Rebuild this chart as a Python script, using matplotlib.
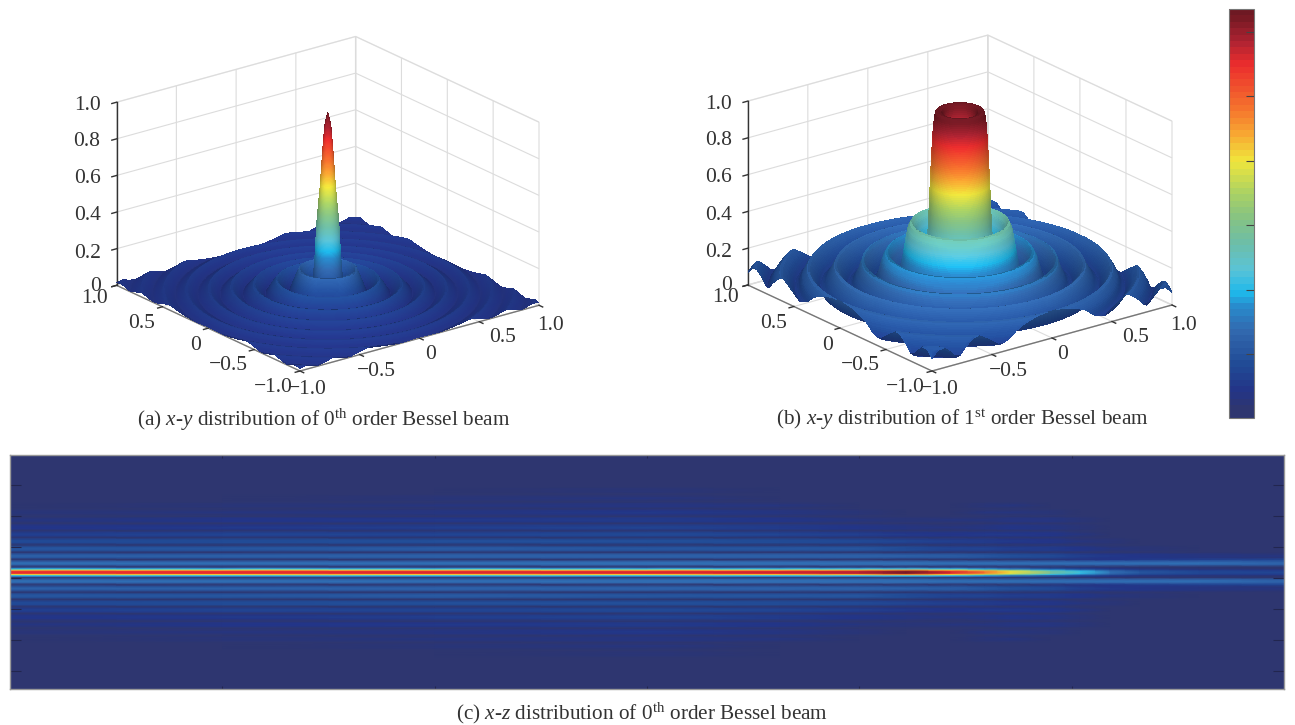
import numpy as np
import matplotlib
matplotlib.use("Agg")
import matplotlib.pyplot as plt
from matplotlib.colors import LinearSegmentedColormap, Normalize
from matplotlib.cm import ScalarMappable
from matplotlib.transforms import Affine2D
from mpl_toolkits.mplot3d import proj3d

plt.rcParams.update({
    "font.family": "Liberation Serif", "mathtext.fontset": "custom",
    "mathtext.rm": "Liberation Serif", "mathtext.it": "Liberation Serif:italic",
    "axes.unicode_minus": True, "text.color": "#333333",
    "xtick.color": "#333333", "ytick.color": "#333333",
})

# ---------- colour scale ----------
cmap_pos = [0, .016, .06, .126, .21, .27, .305, .36, .43, .49, .55, .63, .70, .76, .87, .925, .99, 1]
cmap_rgb = [(46,54,112),(46,54,112),(35,52,135),(33,75,150),(50,105,175),(40,140,205),(30,185,235),
            (90,195,215),(110,190,165),(135,195,130),(170,210,100),(240,230,60),(248,165,50),
            (245,115,45),(235,45,45),(175,35,50),(115,25,35),(110,25,35)]
cbar_ticks = [.156, .313, .472, .628, .787, .944]

# ---------- radial profiles (a) and (b) ----------
r_a = [0, .02, .035, .05, .073, .086, .10, .115, .15, .188, .225, .263, .30, .337, .375, .412, .45, .487,
       .525, .561, .60, .636, .675, .711, .75, .785, .82, .86, .90, .935, .97, 1.01, 1.05, 1.085, 1.12,
       1.16, 1.20, 1.235, 1.27, 1.309, 1.35, 1.385, 1.42]
z_a = [1, .93, .78, .60, .40, .20, .07, .01, .09, .15, .08, .005, .05, .09, .05, .004, .035, .065,
       .035, .003, .026, .05, .026, .003, .021, .04, .021, .003, .018, .034, .018, .002, .016, .03, .016,
       .002, .014, .026, .014, .002, .012, .023, .012]
r_b = [0, .03, .06, .09, .115, .14, .16, .17, .18, .19, .20, .207, .22, .24, .265, .295, .32, .345, .365, .38,
       .40, .42, .45, .48, .51, .545, .58, .61, .64, .67, .705, .74, .78, .82, .86, .89, .92, .96, 1.0,
       1.04, 1.06, 1.09, 1.135, 1.18, 1.225, 1.27, 1.315, 1.36, 1.405, 1.45]
z_b = [0, .12, .45, .85, .99, 1, 1, .96, .87, .72, .55, .40, .25, .14, .22, .36, .40, .36, .27, .20,
       .13, .10, .16, .24, .20, .10, .06, .13, .20, .13, .07, .05, .11, .17, .11, .07, .05, .10, .15,
       .10, .06, .04, .09, .13, .09, .03, .08, .12, .08, .02]

axis_ticks = [-1, -.5, 0, .5, 1]
axis_labels = ["\u22121.0", "\u22120.5", "0", "0.5", "1.0"]
height_ticks = [0, .2, .4, .6, .8, 1]
height_labels = ["0", "0.2", "0.4", "0.6", "0.8", "1.0"]

# ---------- panel (c) ----------
col_pos = [0, 1, 2, 3, 3.625, 4, 4.22, 4.43, 4.59, 4.71, 4.9, 5.04, 5.18, 5.32, 5.6, 6]
centre = [.86, .87, .88, .88, .90, .92, .99, .88, .75, .63, .45, .33, .22, .16, .12, .11]
lobe_y = [0, .04, .075, .105, .14, .17]
lobe_frac = [1, .97, .72, .38, .28, .02]
band_y = [.29, .525, .76, 1.0, 1.225, 1.45, 1.69, 1.935, 2.16, 2.39, 2.645]
gap_y = [.405, .645, .88, 1.115, 1.34, 1.58, 1.805, 2.05, 2.27, 2.52, 2.76]
bands = [
    [.22,.22,.22,.23,.23,.23,.23,.22,.22,.22,.22,.22,.22,.22,.22,.20],
    [.19,.19,.20,.20,.20,.20,.19,.18,.16,.15,.13,.10,.08,.07,.06,.05],
    [.16,.16,.18,.17,.16,.16,.14,.12,.11,.10,.09,.07,.05,.04,.03,.02],
    [.13,.14,.15,.15,.14,.13,.11,.10,.09,.08,.07,.05,.04,.02,.01,.01],
    [.10,.11,.12,.13,.12,.10,.08,.07,.08,.08,.07,.05,.03,.01,0,0],
    [.07,.08,.10,.11,.09,.07,.06,.05,.06,.07,.06,.04,.02,0,0,0],
    [.05,.07,.08,.09,.07,.05,.04,.05,.05,.06,.06,.04,.01,0,0,0],
    [.04,.05,.06,.08,.06,.04,.03,.03,.05,.05,.04,.03,0,0,0,0],
    [.03,.04,.05,.06,.05,.03,.02,.03,.04,.05,.03,.01,0,0,0,0],
    [.02,.03,.04,.05,.03,.03,.02,.02,.03,.03,.02,0,0,0,0,0],
    [.01,.02,.03,.04,.03,.02,.01,0,.02,.02,0,0,0,0,0,0],
]
first_gap = [.02,.02,.02,.02,.02,.02,.02,.03,.03,.03,.04,.05,.07,.09,.10,.11]
x_tick_c = [1, 2, 3, 4, 5]
y_tick_c = [2.806, 1.806, .806, -.194, -1.194, -2.194, -3.194]

# small pixel nudges that take each 3D tick label to its place in the reference
x_nudge = [(-2, -5), (7, -7), (1, -7), (14, -8), (2, -3)]
y_nudge = [(1, -1), (2, -2), (1, 0), (1, -1), (-1, -5)]
z_nudge = [(0, -8), (0, -4), (0, -5), (0, -6), (0, -6), (0, -5)]

W, H = 1295, 725
fig = plt.figure(figsize=(W / 100, H / 100), dpi=100, facecolor="white")
stops = [(p, tuple(v / 255 for v in c)) for p, c in zip(cmap_pos, cmap_rgb)]
cmap = LinearSegmentedColormap.from_list("muted_jet", stops, N=64)
cmap_smooth = LinearSegmentedColormap.from_list("muted_jet_smooth", stops, N=512)
norm = Normalize(0, 1)
GRID = "#dcdcdc"
COLOR_LIFT = 0.05   # the surfaces read slightly brighter than the bar at their low end


def px_rect(l, t, r, b):
    return [l / W, 1 - b / H, (r - l) / W, (b - t) / H]


def nudge_labels(ax, axis, nudges):
    """Axis3D resets label transforms whenever it fetches its ticks, so wrap that call."""
    original = axis.get_major_ticks

    def patched(numticks=None):
        ticks = original(numticks)
        for tick, (dx, dy) in zip(ticks, nudges):
            tick.label1.set_transform(ax.transData + Affine2D().translate(dx, -dy))
        return ticks
    axis.get_major_ticks = patched


def surface_panel(rs, zs, front, right, top_z):
    ax = fig.add_axes(px_rect(front[0] - 280, front[1] - 420, front[0] + 280, front[1] + 140),
                      projection="3d", proj_type="ortho", facecolor="none")
    ax.view_init(elev=21, azim=-127.5)
    ax.set_xlim(-1, 1, view_margin=0)
    ax.set_ylim(-1, 1, view_margin=0)
    ax.set_zlim(0, 1, view_margin=0)
    aspect = (1, 1, top_z / 301)
    ax.set_box_aspect(aspect, zoom=1)

    # revolve the profile on a ring-aligned mesh, cut to the square [-1, 1]^2;
    # rings are spaced by arc length so steep walls get as many rows as flat parts
    fine = np.arange(0, 1.4145, 0.001)
    pf = np.interp(fine, rs, zs)
    kernel = np.ones(9) / 9
    pf = np.convolve(np.pad(pf, 4, mode="edge"), kernel, mode="valid")
    arc = np.r_[0, np.cumsum(np.hypot(np.diff(fine), np.diff(pf)))]
    rad = np.interp(np.linspace(0, arc[-1], 420), arc, fine)
    prof = np.interp(rad, fine, pf)
    th = np.linspace(-np.pi, np.pi, 241)
    rmax = 1 / np.maximum(np.abs(np.cos(th)), np.abs(np.sin(th)))
    TH, RAD = np.meshgrid(th, rad, indexing="ij")
    Rc = np.minimum(RAD, rmax[:, None])
    X, Y = Rc * np.cos(TH), Rc * np.sin(TH)
    Z = np.interp(Rc, rad, prof)
    slope = np.gradient(prof, rad)[None, :] * np.ones_like(TH)
    nrm = np.sqrt(slope**2 + 1)
    # soft lighting: slopes that face the viewer's side are lighter
    dzx, dzy = slope * np.cos(TH), slope * np.sin(TH)
    lit = (0.45 * dzx + 0.6 * dzy + 0.65) / nrm
    fac = np.clip(0.62 + 0.5 * lit, 0.76, 1.08)
    C = cmap_smooth(norm(np.minimum(Z + COLOR_LIFT * (1 - Z), 1)))
    C[..., :3] = np.clip(C[..., :3] * fac[..., None], 0, 1)
    ax.plot_surface(X, Y, Z, facecolors=C, rstride=1, cstride=1, shade=False,
                    linewidth=0, antialiased=False)

    ax.set_xticks(axis_ticks, axis_labels, fontsize=15.5)
    ax.set_yticks(axis_ticks, axis_labels, fontsize=15.5)
    ax.set_zticks(height_ticks, height_labels, fontsize=15.5)
    ax.tick_params(axis="x", pad=3)
    ax.tick_params(axis="y", pad=-1)
    ax.tick_params(axis="z", pad=0)
    for lab in ax.get_yticklabels():
        lab.set_ha("right")
    for lab in ax.get_zticklabels():
        lab.set_ha("right")
    for a, col in ((ax.xaxis, "#777777"), (ax.yaxis, "#777777"), (ax.zaxis, "#333333")):
        a.pane.set_facecolor((1, 1, 1, 0))
        a.pane.set_edgecolor(GRID)
        a._axinfo["grid"].update(color=GRID, linewidth=0.8)
        a._axinfo["tick"].update(inward_factor=0.25, outward_factor=0, linewidth={True: 1, False: 1})
        a.line.set_color(col)
        a.line.set_linewidth(1.0)
    nudge_labels(ax, ax.xaxis, x_nudge)
    nudge_labels(ax, ax.yaxis, y_nudge)
    nudge_labels(ax, ax.zaxis, z_nudge)

    # scale and shift the box so that its corners land where the reference has them
    def to_px(x, y, z):
        px, py, _ = proj3d.proj_transform(x, y, z, ax.get_proj())
        d = ax.transData.transform((px, py))
        return np.array([d[0], H - d[1]])
    fig.canvas.draw()
    span = to_px(1, -1, 0)[0] - to_px(-1, -1, 0)[0]
    ax.set_box_aspect(aspect, zoom=(right[0] - front[0]) / span)
    fig.canvas.draw()
    d = np.array(front, float) - to_px(-1, -1, 0)
    pos = ax.get_position()
    ax.set_position([pos.x0 + d[0] / W, pos.y0 - d[1] / H, pos.width, pos.height])
    return ax


surface_panel(r_a, z_a, (300, 371), (539, 305), 196)
surface_panel(r_b, z_b, (932, 371), (1172, 303), 196)

# ---------- colour bar ----------
cax = fig.add_axes(px_rect(1229, 9, 1254, 418))
cb = fig.colorbar(ScalarMappable(norm=norm, cmap=cmap), cax=cax, ticks=cbar_ticks)
cb.ax.tick_params(direction="in", length=6, width=0.8, color="#444444", labelright=False)
cb.outline.set_edgecolor("#777777")
cb.outline.set_linewidth(0.8)

# ---------- panel (c) ----------
axc = fig.add_axes(px_rect(10, 455, 1284, 689))
centre_arr = np.array(centre)
rows_y, rows = [], []
for y, f in zip(lobe_y, lobe_frac):
    rows_y.append(y); rows.append(f * centre_arr)
for i, (by, gy, band) in enumerate(zip(band_y, gap_y, bands)):
    band = np.array(band)
    # flat-topped stripes with narrow dark gaps
    rows_y += [by - .05, by, by + .05]
    rows += [band * .9, band, band * .9]
    rows_y.append(gy); rows.append(np.array(first_gap) if i == 0 else np.zeros(len(band)))
rows_y.append(3.78); rows.append(np.zeros(len(col_pos)))
rows_y = np.array(rows_y); rows = np.array(rows)
Yc = np.r_[-rows_y[::-1], rows_y[1:]]
Zc = np.vstack([rows[::-1], rows[1:]])
Xg, Yg = np.meshgrid(col_pos, Yc)
axc.pcolormesh(Xg, Yg, Zc, shading="gouraud", cmap=cmap, norm=norm)
axc.set_xlim(0, 6); axc.set_ylim(-3.78, 3.78)
axc.set_xticks(x_tick_c); axc.set_yticks(y_tick_c)
axc.tick_params(axis="x", direction="in", length=2.5, width=0.8, top=True, color="#22264f",
                labelbottom=False)
axc.tick_params(axis="y", direction="in", length=8, width=0.8, right=True, color="#22264f",
                labelleft=False)
for s in axc.spines.values():
    s.set_color("#999999"); s.set_linewidth(1)

# ---------- captions ----------
cap = dict(ha="center", va="center", fontsize=15.3, color="#333333")
fig.text(324 / W, 1 - 419.5 / H, r"(a) $\mathit{x}$-$\mathit{y}$ distribution of 0$^{\mathrm{th}}$ order Bessel beam", **cap)
fig.text(962 / W, 1 - 419.5 / H, r"(b) $\mathit{x}$-$\mathit{y}$ distribution of 1$^{\mathrm{st}}$ order Bessel beam", **cap)
fig.text(642 / W, 1 - 713 / H, r"(c) $\mathit{x}$-$\mathit{z}$ distribution of 0$^{\mathrm{th}}$ order Bessel beam", **cap)

fig.savefig("out.png", dpi=100, facecolor="white")
